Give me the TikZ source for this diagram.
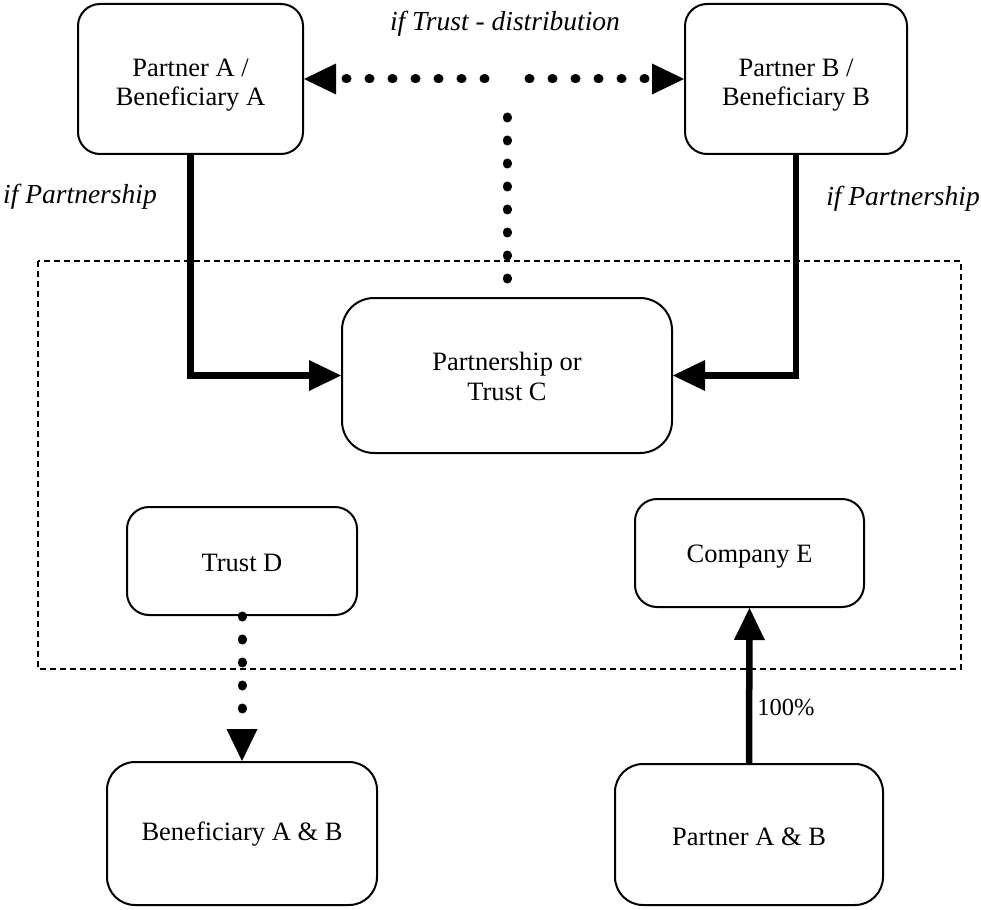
\documentclass[tikz,border=0pt]{standalone}
\usepackage{fontspec}
\setmainfont{Liberation Serif}
\usetikzlibrary{arrows.meta}
\begin{document}
\begin{tikzpicture}[x=1pt,y=-1pt,
  entity/.style={draw, line width=2pt, rounded corners=22pt, inner sep=0pt},
  boxtext/.style={align=center, inner sep=0pt, font=\fontsize{26.5}{29.5}\selectfont},
  note/.style={font=\fontsize{27.5}{31}\selectfont\itshape, inner sep=0pt},
  bigtip/.style={arrows={-Triangle[length=32pt,width=31pt,line width=0pt]}},
  heavy/.style={line width=6.5pt, line join=miter},
  dotline/.style={line width=9pt, line cap=round, dash pattern=on 1pt off 22pt},
  groupframe/.style={line width=1.3pt, dash pattern=on 6pt off 4pt}
]
\useasboundingbox (0,0) rectangle (981,909);

% grouping frame around the entities of the structure
\draw[groupframe] (38,261) rectangle (961,669);

% entities (text sits slightly below each box centre)
\node[entity, minimum width=225pt, minimum height=150pt,
  label={[boxtext, yshift=-6pt]center:Partner A /\\Beneficiary A}] (A) at (190.5,79) {};
\node[entity, minimum width=222pt, minimum height=150pt,
  label={[boxtext, yshift=-6pt]center:Partner B /\\Beneficiary B}] (B) at (796,79) {};
\node[entity, rounded corners=32pt, minimum width=330pt, minimum height=155pt,
  label={[boxtext, yshift=-1pt]center:Partnership or\\Trust C}] (C) at (507,375.5) {};
\node[entity, minimum width=230pt, minimum height=108pt,
  label={[boxtext, yshift=-2pt]center:Trust D}] (D) at (242,561) {};
\node[entity, minimum width=229pt, minimum height=108pt,
  label={[boxtext, yshift=-4pt]center:Company E}] (E) at (749.5,553) {};
\node[entity, rounded corners=28pt, minimum width=270pt, minimum height=143pt,
  label={[boxtext, yshift=-1pt]center:Beneficiary A \& B}] (BAB) at (242,833.5) {};
\node[entity, rounded corners=28pt, minimum width=268pt, minimum height=141pt,
  label={[boxtext, yshift=-2pt]center:Partner A \& B}] (PAB) at (749,834.5) {};

% labels
\node[note, anchor=base] (lt) at (505,31) {if Trust - distribution};
\node[note, anchor=base west] (lpa) at (3,204) {if Partnership};
\node[note, anchor=base east] (lpb) at (980,206) {if Partnership};

% partnership interests
\draw[heavy, bigtip] (A.south) |- (C.west);
\draw[heavy, bigtip] (B.south) |- (C.east);

% trust distributions
\coordinate (tee) at (507,79);
\draw[dotline, bigtip, shorten <=22pt] (tee) -- (A.east);
\draw[dotline, bigtip, shorten <=22pt] (tee) -- (B.west);
\draw[dotline, shorten <=18pt, shorten >=35pt] (C.north) -- (tee);
\draw[dotline, bigtip] (D.south) -- (BAB.north);

% shareholding
\draw[heavy, bigtip] (PAB.north) -- node[pos=0.36, anchor=west, inner sep=5pt,
  font=\fontsize{24.5}{28}\selectfont] (pct) {100\%} (E.south);
\end{tikzpicture}
\end{document}
